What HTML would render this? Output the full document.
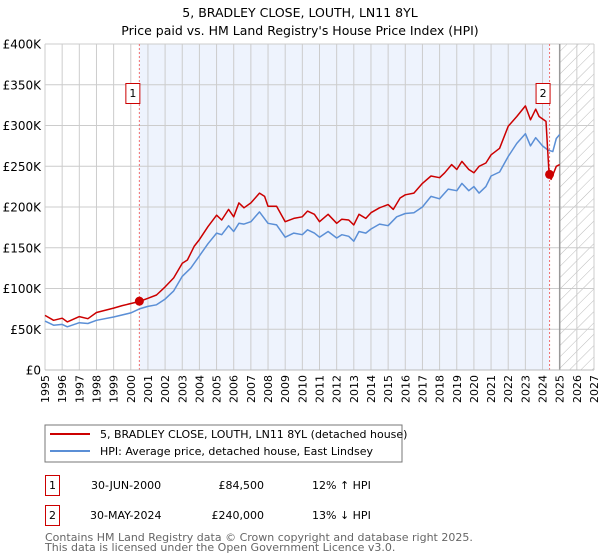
<!DOCTYPE html>
<html><head><meta charset="utf-8"><style>
body{margin:0;background:#fff;font-family:"Liberation Sans","DejaVu Sans",sans-serif;}
svg{display:block}
</style></head><body>
<svg id="chart" width="600" height="560" font-family="DejaVu Sans, Liberation Sans, sans-serif">
<text x="300" y="17" text-anchor="middle" font-size="12.5">5, BRADLEY CLOSE, LOUTH, LN11 8YL</text>
<text x="300" y="35" text-anchor="middle" font-size="12.5">Price paid vs. HM Land Registry's House Price Index (HPI)</text>
<g id="plot"></g>
<rect x="45" y="425" width="357" height="37" fill="#fff" stroke="#777"/>
<line x1="50" y1="434" x2="90" y2="434" stroke="#cc0000" stroke-width="2"/>
<text x="100" y="438" font-size="11">5, BRADLEY CLOSE, LOUTH, LN11 8YL (detached house)</text>
<line x1="50" y1="451" x2="90" y2="451" stroke="#5b8fd6" stroke-width="2"/>
<text x="100" y="455" font-size="11">HPI: Average price, detached house, East Lindsey</text>
<g font-size="11">
<rect x="45.5" y="475.5" width="14" height="20" fill="none" stroke="#cc0000"/>
<text x="52.5" y="489" text-anchor="middle">1</text>
<text x="91" y="489">30-JUN-2000</text>
<text x="264" y="489" text-anchor="end">£84,500</text>
<text x="312" y="489">12% ↑ HPI</text>
<rect x="45.5" y="505.5" width="14" height="20" fill="none" stroke="#cc0000"/>
<text x="52.5" y="519" text-anchor="middle">2</text>
<text x="90" y="519">30-MAY-2024</text>
<text x="264" y="519" text-anchor="end">£240,000</text>
<text x="312" y="519">13% ↓ HPI</text>
</g>
<text x="45" y="541" font-size="11" fill="#666">Contains HM Land Registry data © Crown copyright and database right 2025.</text>
<text x="45" y="551" font-size="11" fill="#666">This data is licensed under the Open Government Licence v3.0.</text>
</svg>
<script>
const redYears=[1995,1995.5,1996,1996.3,1997,1997.5,1998,1999,1999.5,2000.5,2001,2001.5,2002,2002.5,2003,2003.3,2003.7,2004,2004.5,2005,2005.3,2005.7,2006,2006.3,2006.6,2007,2007.5,2007.8,2008,2008.5,2009,2009.5,2010,2010.3,2010.7,2011,2011.5,2012,2012.3,2012.7,2013,2013.3,2013.7,2014,2014.5,2015,2015.3,2015.7,2016,2016.5,2017,2017.5,2018,2018.3,2018.7,2019,2019.3,2019.7,2020,2020.3,2020.7,2021,2021.5,2022,2022.5,2023,2023.3,2023.6,2023.8,2024.2,2024.38,2024.5,2024.8,2025];
const redValues=[67,61,63.5,59,65.5,63,70.5,76,79,84,88,92,102,113,131,135,152,160,176,190,184,197,188,205,199,205,217,213,201,201,182,186,188,195,191,182,191,180,185,184,178,191,186,193,199,203,197,211,215,217,229,238,236,242,252,246,256,246,242,250,254,264,272,299,311,324,307,320,311,305,240,234,250,252];
const hpiYears=[1995,1995.5,1996,1996.3,1997,1997.5,1998,1999,2000,2000.5,2001,2001.5,2002,2002.5,2003,2003.5,2004,2004.5,2005,2005.3,2005.7,2006,2006.3,2006.6,2007,2007.5,2008,2008.5,2009,2009.5,2010,2010.3,2010.7,2011,2011.5,2012,2012.3,2012.7,2013,2013.3,2013.7,2014,2014.5,2015,2015.5,2016,2016.5,2017,2017.5,2018,2018.5,2019,2019.3,2019.7,2020,2020.3,2020.7,2021,2021.5,2022,2022.5,2023,2023.3,2023.6,2024,2024.3,2024.6,2024.8,2025];
const hpiValues=[60,55,56,53,58,57,61,65,70,75,78,80,87,97,115,125,140,155,168,166,177,170,180,179,182,194,180,178,163,168,166,172,168,163,170,162,166,164,158,170,168,173,179,177,188,192,193,200,213,210,222,220,229,220,225,217,225,238,243,262,278,290,275,285,275,270,268,284,289];
const saleYears=[2000.5,2024.41];
const saleValues=[84.5,240];
const saleLabels=["1","2"];
const yTicks=[0,50,100,150,200,250,300,350,400];
const yTickLabels=["£0","£50K","£100K","£150K","£200K","£250K","£300K","£350K","£400K"];
const xTicks=[1995,1996,1997,1998,1999,2000,2001,2002,2003,2004,2005,2006,2007,2008,2009,2010,2011,2012,2013,2014,2015,2016,2017,2018,2019,2020,2021,2022,2023,2024,2025,2026,2027];

const L=45,R=594,T=44,B=370,X0=1995,X1=2027,YMAX=400;
const xs=y=>L+(y-X0)/(X1-X0)*(R-L);
const ys=v=>B-v/YMAX*(B-T);
const NS="http://www.w3.org/2000/svg";
const g=document.getElementById('plot');
function mk(t,a,p){const e=document.createElementNS(NS,t);for(const k in a)e.setAttribute(k,a[k]);(p||g).appendChild(e);return e;}

// defs hatch
const defs=mk('defs',{});
const pat=mk('pattern',{id:'hatch',patternUnits:'userSpaceOnUse',width:8,height:8,patternTransform:'rotate(45)'},defs);
mk('line',{x1:0,y1:0,x2:0,y2:8,stroke:'#bbb','stroke-width':1},pat);

let e;
e=mk('rect',{x:L,y:T,width:R-L,height:B-T,fill:'#fff'});


e=mk('rect',{x:xs(saleYears[0]),y:T,width:xs(saleYears[1])-xs(saleYears[0]),height:B-T,fill:'#eef3fd'});


e=mk('rect',{x:xs(2025),y:T,width:R-xs(2025),height:B-T,fill:'url(#hatch)'});



yTicks.forEach((v,i)=>{
  e=mk('line',{x1:L,x2:R,y1:ys(v),y2:ys(v),stroke:'#ccc','stroke-width':1});
  
  
  e=mk('text',{x:L-4,y:ys(v)+4.5,'text-anchor':'end','font-size':12});
  e.textContent=yTickLabels[i];
  
  
});
xTicks.forEach(y=>{
  e=mk('line',{x1:xs(y),x2:xs(y),y1:T,y2:B,stroke:y===2025?'#999':'#ccc','stroke-width':y===2025?1.5:1});
  
  
  e=mk('text',{x:0,y:0,'text-anchor':'end','font-size':11,transform:`translate(${xs(y)+4},${B+5}) rotate(-90)`});
  e.textContent=y;
  
  
});

saleYears.forEach((y,i)=>{
  e=mk('line',{x1:xs(y),x2:xs(y),y1:T,y2:B,stroke:'#f07070','stroke-width':1,'stroke-dasharray':'2,2'});
  
  
  e=mk('rect',{x:xs(y)-13.5,y:83.5,width:14,height:20,fill:'#fff',stroke:'#cc0000'});
  
  
  e=mk('text',{x:xs(y)-6.5,y:97,'text-anchor':'middle','font-size':11});
  e.textContent=saleLabels[i];
  
  
});

function line(xsArr,vals,color,name){
  const d=xsArr.map((y,i)=>(i?'L':'M')+xs(y).toFixed(1)+','+ys(vals[i]).toFixed(1)).join('');
  const p=mk('path',{d,fill:'none',stroke:color,'stroke-width':1.5,'stroke-linejoin':'round'});
  
  
}
line(hpiYears,hpiValues,'#5b8fd6','hpi-line');
line(redYears,redValues,'#cc0000','price-paid-line');

saleYears.forEach((y,i)=>{
  e=mk('circle',{cx:xs(y),cy:ys(saleValues[i]),r:4.5,fill:'#cc0000'});
  
  
});
e=mk('line',{x1:L,x2:R,y1:B,y2:B,stroke:'#bbb'});


</script>
</body></html>
